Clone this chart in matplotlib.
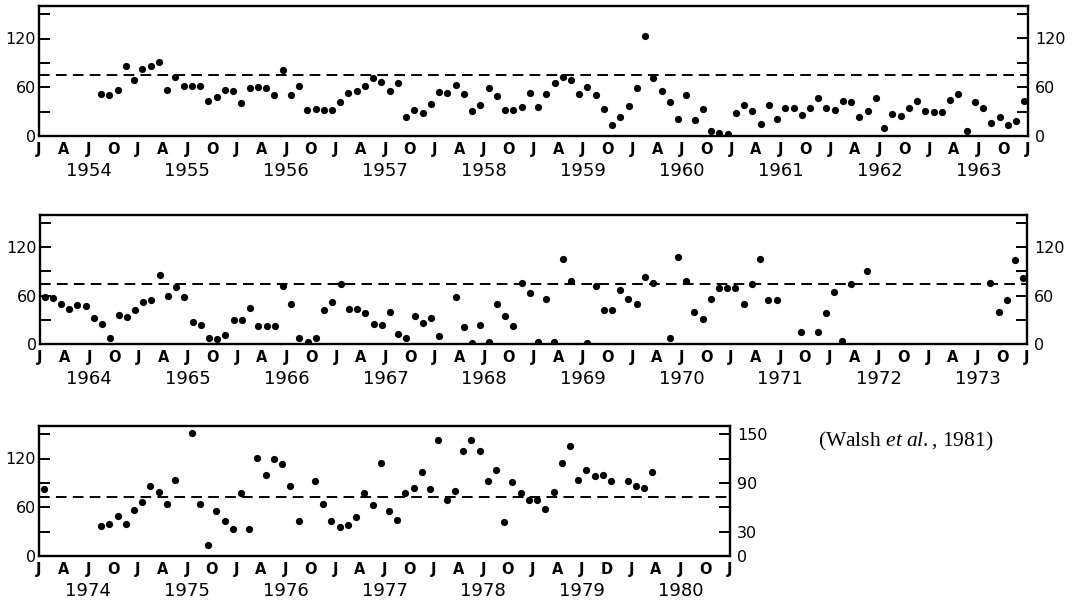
import numpy as np
import matplotlib
matplotlib.use('Agg')
import matplotlib.pyplot as plt

nan = np.nan

# ---------------- data (monthly values) ----------------
# Panel 1: Jan 1954 - Dec 1963
p1_start = 1954
p1_values = [
    nan, nan, nan, nan, nan, nan, nan, 52, 51, 57, 86, 69,      # 1954
    83, 86, 91, 57, 73, 62, 62, 61, 43, 48, 57, 55,             # 1955
    41, 59, 60, 59, 51, 81, 51, 62, 32, 33, 32, 32,             # 1956
    42, 53, 55, 62, 71, 66, 56, 65, 23, 32, 28, 39,             # 1957
    54, 53, 63, 52, 31, 38, 59, 49, 32, 32, 36, 53,             # 1958
    36, 52, 65, 73, 69, 52, 60, 50, 33, 14, 24, 37,             # 1959
    59, 123, 72, 55, 42, 21, 50, 20, 33, 6, 4, 3,               # 1960
    28, 38, 31, 15, 38, 21, 34, 34, 26, 35, 47, 35,             # 1961
    32, 43, 42, 23, 31, 47, 10, 27, 25, 34, 43, 31,             # 1962
    29, 29, 44, 52, 6, 42, 35, 16, 24, 14, 18, 43,              # 1963
]
p1_mean = 74.5

# Panel 2: Jan 1964 - Dec 1973
p2_start = 1964
p2_values = [
    58, 57, 50, 44, 48, 47, 32, 25, 7, 36, 33, 42,              # 1964
    52, 55, 85, 60, 71, 58, 27, 24, 8, 6, 11, 30,               # 1965
    30, 45, 22, 22, 22, 72, 50, 7, 2, 8, 42, 52,                # 1966
    74, 43, 43, 38, 25, 24, 40, 13, 8, 35, 26, 32,              # 1967
    10, nan, 58, 21, 1, 23, 2, 50, 35, 22, 76, 63,              # 1968
    2, 56, 3, 105, 78, nan, 1, 72, 42, 42, 67, 56,              # 1969
    49, 83, 76, nan, 7, 108, 78, 40, 31, 56, 70, 70,            # 1970
    70, 50, 75, 106, 54, 54, nan, nan, 15, nan, 15, 38,         # 1971
    65, 4, 75, nan, 91, nan, nan, nan, nan, nan, nan, nan,      # 1972
    nan, nan, nan, nan, nan, nan, nan, 76, 40, 54, 104, 82,     # 1973
]
p2_mean = 74.5

# Panel 3: Jan 1974 - Dec 1980
p3_start = 1974
p3_values = [
    83, nan, nan, nan, nan, nan, nan, 37, 40, 49, 40, 57,       # 1974
    67, 86, 79, 64, 93, nan, 152, 64, 14, 55, 43, 33,           # 1975
    77, 33, 121, 100, 120, 113, 86, 43, nan, 92, 64, 43,        # 1976
    36, 38, 48, 77, 63, 115, 55, 44, 78, 84, 104, 83,           # 1977
    143, 69, 80, 129, 143, 129, 92, 106, 42, 91, 78, 69,        # 1978
    69, 58, 79, 115, 136, 93, 106, 99, 100, 92, nan, 92,        # 1979
    86, 84, 103, nan, nan, nan, nan, nan, nan, nan, nan, nan,   # 1980
]
p3_mean = 73

quarter_labels = ['J', 'A', 'J', 'O']
p1_xlabels = quarter_labels * 10 + ['J']
p2_xlabels = quarter_labels * 10 + ['J']
p3_xlabels = (quarter_labels * 5) + ['J', 'A', 'J', 'D'] + quarter_labels + ['J']

left_ylabels = {0: '0', 60: '60', 120: '120'}
p12_right_ylabels = {0: '0', 60: '60', 120: '120'}
p3_right_ylabels = {0: '0', 30: '30', 90: '90', 150: '150'}

credit = "(Walsh $\\mathit{et\\ al.}$, 1981)"

# ---------------- drawing ----------------
plt.rcParams['font.family'] = ['DejaVu Sans']
plt.rcParams['mathtext.fontset'] = 'custom'
plt.rcParams['mathtext.rm'] = 'Liberation Serif'
plt.rcParams['mathtext.it'] = 'Liberation Serif:italic'

W, H = 1073, 600
fig = plt.figure(figsize=(W / 100, H / 100), dpi=100)
fig.patch.set_facecolor('white')


def add_ax(l, r, t, b):
    return fig.add_axes([l / W, 1 - b / H, (r - l) / W, (b - t) / H])


def draw_panel(box, start, values, mean, xlabels, right_labels):
    ax = add_ax(*box)
    vals = np.array(values, dtype=float)
    n = len(vals)
    x = np.arange(n) + 0.55
    ax.plot(x, vals, 'o', color='black', ms=5.2, mec='black', mew=0, zorder=3)
    ax.axhline(mean, color='black', lw=1.4, ls=(0, (5.5, 3.2)), zorder=2)
    ax.set_xlim(0, n)
    ax.set_ylim(0, 160)
    for s in ax.spines.values():
        s.set_linewidth(1.7)
    # x: quarterly letters (no tick marks), yearly inward ticks
    ax.set_xticks(np.arange(0, n + 1, 3))
    ax.set_xticklabels(xlabels, fontsize=10.5, fontweight='bold')
    ax.tick_params(axis='x', which='major', length=0, pad=4)
    ax.set_xticks(np.arange(12, n, 12), minor=True)
    ax.tick_params(axis='x', which='minor', direction='in', length=8, width=1.4)
    # y left
    yt = np.arange(0, 151, 30)
    ax.set_yticks(yt)
    ax.set_yticklabels([left_ylabels.get(int(v), '') for v in yt], fontsize=11.5)
    ax.tick_params(axis='y', direction='in', length=8, width=1.4, pad=2)
    # y right
    axr = ax.twinx()
    axr.set_ylim(0, 160)
    axr.set_yticks(yt)
    axr.set_yticklabels([right_labels.get(int(v), '') for v in yt], fontsize=11.5)
    axr.tick_params(axis='y', direction='in', length=8, width=1.4, pad=5)
    for s in axr.spines.values():
        s.set_visible(False)
    # year labels
    for i in range(n // 12):
        ax.annotate(str(start + i), xy=(12 * i + 6, 0), xycoords=('data', 'axes fraction'),
                    xytext=(0, -25), textcoords='offset points',
                    ha='center', va='center', fontsize=13)
    return ax


draw_panel((39, 1028, 6, 136), p1_start, p1_values, p1_mean, p1_xlabels, p12_right_ylabels)
draw_panel((40, 1027, 215, 344), p2_start, p2_values, p2_mean, p2_xlabels, p12_right_ylabels)
draw_panel((39, 730, 426, 556), p3_start, p3_values, p3_mean, p3_xlabels, p3_right_ylabels)

fig.text(818 / W, 1 - 441 / H, credit, family='Liberation Serif', fontsize=15.5,
         ha='left', va='center')

fig.savefig('out.png', dpi=100, facecolor='white')
